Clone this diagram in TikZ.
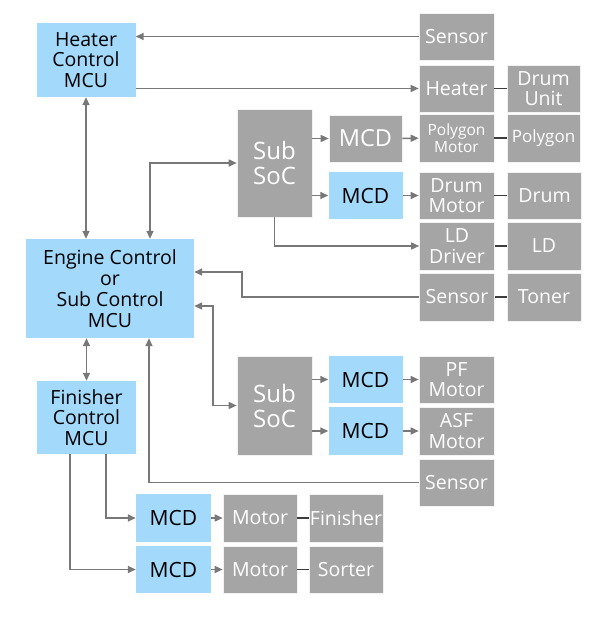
\documentclass[tikz,border=0pt]{standalone}
\usepackage{fontspec}
\setmainfont{Open Sans}
\usetikzlibrary{arrows.meta,positioning,calc}
\definecolor{mcublue}{HTML}{A3D9FA}
\definecolor{devgray}{HTML}{A5A5A5}
\definecolor{wiregray}{HTML}{787878}
\definecolor{linkdark}{HTML}{3C3C3C}

\begin{document}
\begin{tikzpicture}[
    x=1pt, y=-1pt,
    >={Triangle[length=8pt,width=7pt]},
    mcu/.style     = {fill=mcublue, text=black, align=center, inner sep=0pt,
                      font=\fontsize{19.5}{20.8}\selectfont},
    dev/.style     = {fill=devgray, draw=white!85!devgray, line width=0.6pt,
                      text=white, align=center, inner sep=0pt,
                      minimum width=75pt, minimum height=47pt,
                      font=\fontsize{19.5}{20.5}\selectfont},
    mcd/.style     = {fill=mcublue, text=black, align=center, inner sep=0pt,
                      minimum width=74pt, minimum height=47pt,
                      font=\fontsize{21}{22}\selectfont},
    sig/.style     = {draw=wiregray, line width=1.5pt, ->},
    dsig/.style    = {draw=wiregray, line width=1.5pt, <->},
    link/.style    = {draw=linkdark, line width=1.5pt},
  ]
  \useasboundingbox (0,0) rectangle (614,618);

  % ===================================================================
  % Controllers (blue)
  % ===================================================================
  \node[mcu, minimum width=99pt, minimum height=74pt] (hmcu)
    at (86,60) {Heater\\Control\\MCU};
  \node[mcu, minimum width=168pt, minimum height=99pt] (emcu)
    at (110,288.5) {Engine Control\\or\\Sub Control\\MCU};
  \node[mcu, minimum width=99pt, minimum height=73pt] (fmcu)
    at (86.5,417.5) {Finisher\\Control\\MCU};

  % ===================================================================
  % Upper right: heater, laser and drum group
  % ===================================================================
  \node[dev] (sens1) at (456.5,36.5) {Sensor};
  \node[dev] (heater) at (456.5,88.5) {Heater};
  \node[dev, minimum width=73pt] (drumunit) at (543.5,88.5) {Drum\\Unit};

  \node[dev, minimum height=108pt, font=\fontsize{24}{25}\selectfont]
    (soc1) at (274.5,163) {Sub\\SoC};
  \node[dev, minimum width=73pt, font=\fontsize{23.5}{25}\selectfont]
    (mcd1) at (365.5,138.5) {MCD};
  \node[dev, minimum height=48pt, font=\fontsize{15.5}{17}\selectfont]
    (polymot) at (456.5,138) {Polygon\\Motor};
  \node[dev, minimum width=73pt, minimum height=48pt,
        font=\fontsize{17}{18}\selectfont] (polygon) at (543.5,138) {Polygon};

  \node[mcd] (mcd2) at (365.5,195.5) {MCD};
  \node[dev] (drummot) at (456.5,195.5) {Drum\\Motor};
  \node[dev, minimum width=74pt] (drum) at (544.5,195.5) {Drum};

  \node[dev, minimum height=48pt] (lddrv) at (457,246) {LD\\Driver};
  \node[dev, minimum width=74pt, minimum height=48pt] (ld) at (544,246) {LD};
  \node[dev, minimum height=48pt] (sens2) at (457,297) {Sensor};
  \node[dev, minimum width=74pt, minimum height=48pt] (toner) at (544,297) {Toner};

  % ===================================================================
  % Lower right: paper feed group
  % ===================================================================
  \node[dev, minimum height=99pt, font=\fontsize{24}{25}\selectfont]
    (soc2) at (274.5,405.5) {Sub\\SoC};
  \node[mcd] (mcd3) at (365.5,379.5) {MCD};
  \node[dev] (pfmot) at (456.5,379.5) {PF\\Motor};
  \node[mcd, minimum height=48pt] (mcd4) at (365.5,431) {MCD};
  \node[dev, minimum height=48pt] (asfmot) at (456.5,431) {ASF\\Motor};
  \node[dev] (sens3) at (456.5,482.5) {Sensor};

  % ===================================================================
  % Bottom: finisher / sorter group
  % ===================================================================
  \node[mcd, minimum width=75pt, minimum height=48pt] (mcd5) at (173.5,518) {MCD};
  \node[dev, minimum width=74pt, minimum height=48pt] (mot1) at (260,518) {Motor};
  \node[dev, minimum width=74pt, minimum height=48pt] (fin) at (346,518) {Finisher};
  \node[mcd, minimum width=75pt] (mcd6) at (173.5,569.5) {MCD};
  \node[dev, minimum width=74pt] (mot2) at (260,569.5) {Motor};
  \node[dev, minimum width=74pt] (sorter) at (346,569.5) {Sorter};

  % ----- heater MCU wiring -----
  \draw[sig] (sens1.west) -- (sens1.west -| hmcu.east);
  \draw[sig] (heater.west -| hmcu.east) -- (heater.west);
  \draw[link] (heater) -- (drumunit);
  \draw[dsig] (hmcu.south) -- (emcu.north -| hmcu.south);

  % ----- upper Sub SoC -----
  \draw[dsig] ([xshift=40pt]emcu.north) |- (soc1.west);
  \draw[sig] (soc1.east |- mcd1.west) -- (mcd1.west);
  \draw[sig] (soc1.east |- mcd2.west) -- (mcd2.west);
  \draw[sig] (mcd1) -- (polymot);
  \draw[sig] (mcd2) -- (drummot);
  \draw[link] (polymot) -- (polygon);
  \draw[link] (drummot) -- (drum);
  \draw[sig] (soc1.south) |- (lddrv.west);
  \draw[link] (lddrv) -- (ld);
  \draw[sig] (sens2.west) -- ++(-177,0) |- ([yshift=16.5pt]emcu.east);
  \draw[link] (sens2) -- (toner);

  % ----- lower Sub SoC -----
  \draw[dsig] ([yshift=-17.5pt]emcu.east) -- ++(19,0) |- (soc2.west);
  \draw[sig] (soc2.east |- mcd3.west) -- (mcd3.west);
  \draw[sig] (soc2.east |- mcd4.west) -- (mcd4.west);
  \draw[sig] (mcd3) -- (pfmot);
  \draw[sig] (mcd4) -- (asfmot);
  \draw[sig] (sens3.west) -| ([xshift=39pt]emcu.south);

  % ----- finisher MCU wiring -----
  \draw[dsig] (fmcu.north |- emcu.south) -- (fmcu.north);
  \draw[sig] ([xshift=19.5pt]fmcu.south) |- (mcd5.west);
  \draw[sig] ([xshift=-16.5pt]fmcu.south) |- (mcd6.west);
  \draw[sig] (mcd5) -- (mot1);
  \draw[sig] (mcd6) -- (mot2);
  \draw[link] (mot1) -- (fin);
  \draw[link] (mot2) -- (sorter);

\end{tikzpicture}
\end{document}
